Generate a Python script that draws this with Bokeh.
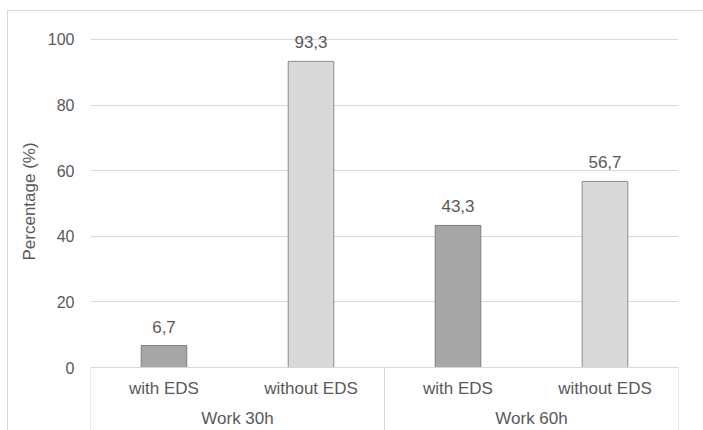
from bokeh.plotting import figure
from bokeh.models import FactorRange, Range1d, FixedTicker, ColumnDataSource, Title
from bokeh.core.properties import value
from bokeh.embed import file_html
from bokeh.resources import INLINE

groups = ["Work 30h", "Work 60h"]
subcats = ["with EDS", "without EDS"]
values = [6.7, 93.3, 43.3, 56.7]
value_labels = ["6,7", "93,3", "43,3", "56,7"]
y_ticks = [0, 20, 40, 60, 80, 100]
y_title = "Percentage (%)"

FONT = "Liberation Sans"
TXT = "#595959"
LINE = "#d9d9d9"

factors = [(g, s) for g in groups for s in subcats]
fills = ["#a6a6a6", "#d9d9d9"] * len(groups)
edges = ["#7f7f7f", "#8c8c8c"] * len(groups)

src = ColumnDataSource(dict(x=factors, top=values, fill=fills, edge=edges, lab=value_labels,
                            sub=[f[1] for f in factors]))

y_lo, y_hi = -19.5, 108.5
p = figure(width=696, height=420, x_range=FactorRange(*factors, range_padding=0, group_padding=0, factor_padding=0),
           y_range=Range1d(y_lo, y_hi), output_backend="svg", toolbar_location=None,
           min_border_left=82, min_border_right=26, min_border_top=0, min_border_bottom=0)
p.margin = (10, 0, 0, 7)
p.styles = {"border-top": "1px solid #d9d9d9", "border-left": "1px solid #d9d9d9", "box-sizing": "border-box"}
p.outline_line_color = None
p.xaxis.visible = False
p.xgrid.visible = False
p.ygrid.grid_line_color = LINE
p.ygrid.ticker = FixedTicker(ticks=y_ticks)
p.yaxis.ticker = FixedTicker(ticks=y_ticks)
p.yaxis.axis_line_color = None
p.yaxis.major_tick_line_color = None
p.yaxis.minor_tick_line_color = None
p.yaxis.major_tick_out = 0
p.yaxis.major_label_standoff = 16
p.yaxis.major_label_text_font = FONT
p.yaxis.major_label_text_font_size = "16px"
p.yaxis.major_label_text_color = TXT

p.add_layout(Title(text=y_title, align="left", offset=171, standoff=11, text_font=FONT,
                   text_font_size="17px", text_font_style="normal", text_color=TXT), "left")

p.vbar(x="x", top="top", width=0.31, bottom=0, source=src, fill_color="fill", line_color="edge", line_width=1)
p.text(x="x", y="top", text="lab", source=src, y_offset=-19, text_align="center", text_baseline="middle",
       text_font=value(FONT), text_font_size="17px", text_color=TXT)

# category axis box
n_sub = len(subcats)
bounds = [i * n_sub for i in range(len(groups) + 1)]
p.segment(x0=[bounds[0]], y0=[0], x1=[bounds[-1]], y1=[0], line_color=LINE, line_width=1)
p.segment(x0=bounds, y0=[0] * len(bounds), x1=bounds, y1=[y_lo] * len(bounds), line_color=LINE, line_width=1)
p.text(x="x", y=-6.4, text="sub", source=src, text_align="center", text_baseline="middle",
       text_font=value(FONT), text_font_size="17px", text_color=TXT)
p.text(x=groups, y=[-15.6] * len(groups), text=groups, text_align="center", text_baseline="middle",
       text_font=value(FONT), text_font_size="17px", text_color=TXT)

open("out.html", "w").write(file_html(p, INLINE))
